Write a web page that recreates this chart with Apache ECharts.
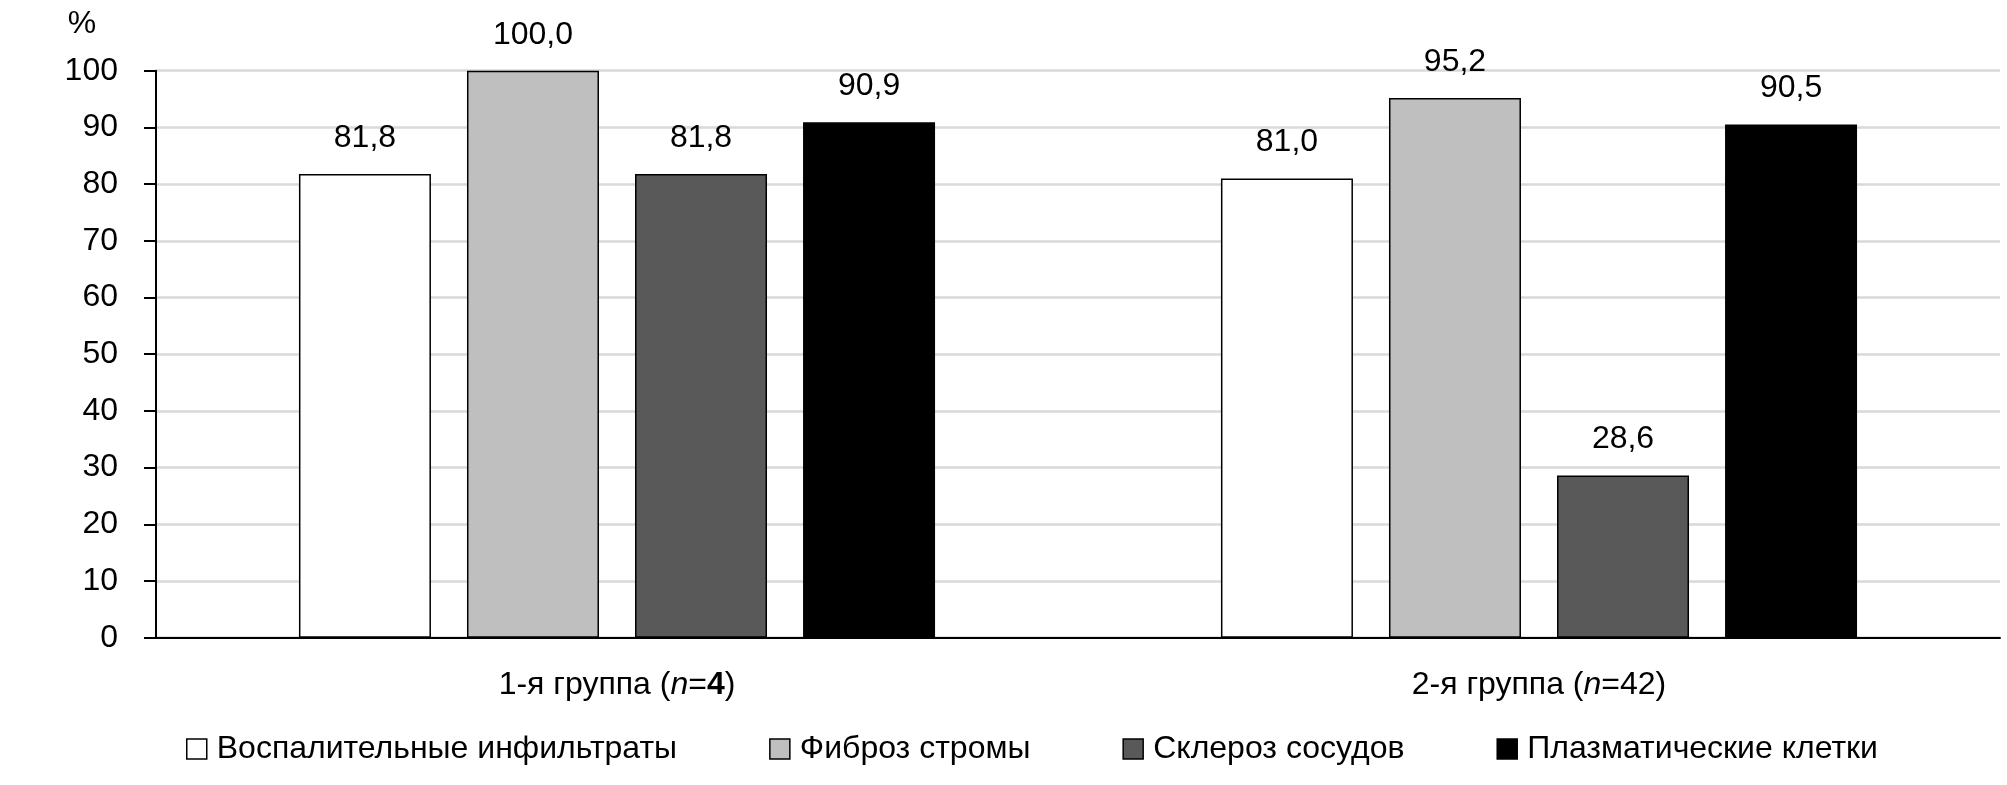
<!DOCTYPE html>
<html>
<head>
<meta charset="utf-8">
<script src="https://cdn.jsdelivr.net/npm/echarts@6/dist/echarts.min.js"></script>
<style>
  html, body { margin: 0; padding: 0; background: #fff; }
  #chart { width: 2007px; height: 785px; }
</style>
</head>
<body>
<div id="chart"></div>
<script>
const categories = ['1-я группа (n=4)', '2-я группа (n=42)'];
const boldN = [true, false];
const seriesNames = ['Воспалительные инфильтраты', 'Фиброз стромы', 'Склероз сосудов', 'Плазматические клетки'];
const inflammatory = [81.8, 81.0];
const fibrosis = [100.0, 95.2];
const sclerosis = [81.8, 28.6];
const plasma = [90.9, 90.5];
const seriesColors = ['#FFFFFF', '#BFBFBF', '#595959', '#000000'];
const yTicks = [0, 10, 20, 30, 40, 50, 60, 70, 80, 90, 100];

const FONT = "'Liberation Sans', Arial, sans-serif";
const FS = 32;

const chart = echarts.init(document.getElementById('chart'), null, { renderer: 'canvas' });

const seriesData = [inflammatory, fibrosis, sclerosis, plasma];

const option = {
  backgroundColor: '#ffffff',
  animation: false,
  textStyle: { fontFamily: FONT, color: '#000' },
  graphic: [{
    type: 'text',
    x: 82, y: 24,
    style: { text: '%', font: FS + 'px ' + FONT, fill: '#000', textAlign: 'center', textVerticalAlign: 'middle' }
  }],
  legend: {
    left: 181,
    top: 728,
    itemWidth: 20,
    itemHeight: 20,
    itemGap: 92,
    icon: 'rect',
    textStyle: { fontFamily: FONT, fontSize: FS, color: '#000', padding: [0, 0, 0, 5] },
    data: seriesNames.map((n, i) => ({ name: n, itemStyle: { color: seriesColors[i], borderColor: '#000', borderWidth: 1.5 } }))
  },
  grid: { left: 156, right: 7, top: 70.7, bottom: 147.3, containLabel: false },
  xAxis: {
    type: 'category',
    data: categories,
    axisLine: { show: true, lineStyle: { color: '#000', width: 2 } },
    axisTick: { show: false },
    axisLabel: {
      margin: 31,
      fontFamily: FONT, fontSize: FS, color: '#000',
      formatter: function (value, idx) {
        const m = value.match(/^(.*)\(n=(\d+)\)$/);
        if (!m) return value;
        const num = boldN[idx] ? '{b|' + m[2] + '}' : m[2];
        return m[1] + '({i|n}=' + num + ')';
      },
      rich: {
        i: { fontFamily: FONT, fontSize: FS, fontStyle: 'italic', color: '#000' },
        b: { fontFamily: FONT, fontSize: FS, fontWeight: 'bold', color: '#000' }
      }
    }
  },
  yAxis: {
    type: 'value',
    min: yTicks[0],
    max: yTicks[yTicks.length - 1],
    interval: 10,
    axisLine: { show: true, lineStyle: { color: '#000', width: 2 } },
    axisTick: { show: true, length: 12, lineStyle: { color: '#000', width: 2 } },
    axisLabel: { margin: 38, fontFamily: FONT, fontSize: FS, color: '#000' },
    splitLine: { show: true, lineStyle: { color: '#D9D9D9', width: 2.5 } }
  },
  series: seriesNames.map((name, i) => ({
    name: name,
    type: 'bar',
    data: seriesData[i],
    barWidth: 132,
    barGap: '27.3%',
    itemStyle: { color: seriesColors[i], borderColor: '#000', borderWidth: 1.5 },
    label: {
      show: true,
      position: 'top',
      distance: 20,
      fontFamily: FONT,
      fontSize: FS,
      color: '#000',
      formatter: p => p.value.toFixed(1).replace('.', ',')
    }
  }))
};

chart.setOption(option);
</script>
</body>
</html>
